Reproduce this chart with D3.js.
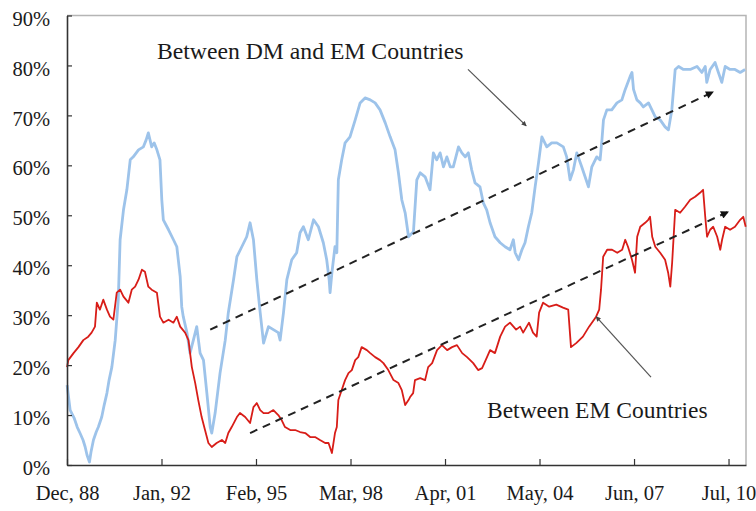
<!DOCTYPE html>
<html><head><meta charset="utf-8">
<script src="https://cdn.jsdelivr.net/npm/d3@7"></script>
<style>html,body{margin:0;padding:0;background:#fff;} svg{display:block;}</style>
</head><body>
<svg id="chart" width="756" height="511"></svg>
<script>
// ---- data ----
const dmYears=[1988.92,1989.02,1989.15,1989.25,1989.34,1989.44,1989.51,1989.57,1989.65,1989.70,
1989.78,1989.87,1989.94,1990.05,1990.13,1990.22,1990.29,1990.38,1990.49,1990.59,
1990.65,1990.76,1990.87,1990.98,1991.08,1991.25,1991.41,1991.50,1991.57,1991.68,
1991.76,1991.85,1991.95,1992.01,1992.06,1992.23,1992.39,1992.50,1992.61,1992.66,
1992.71,1992.83,1992.93,1993.04,1993.15,1993.26,1993.37,1993.48,1993.59,1993.64,
1993.75,1993.91,1994.08,1994.18,1994.35,1994.46,1994.62,1994.78,1994.89,1995.00,
1995.11,1995.22,1995.33,1995.49,1995.65,1995.81,1995.87,1995.98,1996.09,1996.25,
1996.41,1996.52,1996.63,1996.79,1996.96,1997.12,1997.28,1997.39,1997.47,1997.50,
1997.56,1997.66,1997.72,1997.77,1997.88,1997.99,1998.15,1998.32,1998.48,1998.64,
1998.81,1998.97,1999.13,1999.30,1999.46,1999.62,1999.73,1999.84,1999.95,2000.06,
2000.22,2000.33,2000.44,2000.60,2000.76,2000.87,2000.98,2001.09,2001.20,2001.31,
2001.42,2001.52,2001.69,2001.80,2001.91,2002.01,2002.12,2002.23,2002.39,2002.50,
2002.61,2002.72,2002.88,2003.05,2003.21,2003.37,2003.48,2003.54,2003.65,2003.76,
2003.86,2003.97,2004.08,2004.19,2004.30,2004.41,2004.57,2004.73,2004.90,2005.11,
2005.22,2005.33,2005.44,2005.55,2005.71,2005.82,2005.93,2006.04,2006.20,2006.31,
2006.37,2006.42,2006.53,2006.69,2006.86,2007.02,2007.13,2007.29,2007.35,2007.40,
2007.51,2007.62,2007.72,2007.89,2008.00,2008.11,2008.27,2008.43,2008.54,2008.65,
2008.76,2008.87,2009.03,2009.25,2009.47,2009.63,2009.74,2009.79,2009.90,2010.06,
2010.17,2010.28,2010.39,2010.55,2010.71,2010.88,2011.04];
const dmValues=[16.0,11.0,9.4,7.6,6.4,5.0,3.6,2.0,0.6,2.6,
5.0,6.6,7.6,9.6,12.0,14.4,17.0,19.6,25.0,33.1,
45.1,51.1,55.1,61.1,61.7,63.1,63.7,65.1,66.5,63.7,
64.5,63.1,61.1,53.1,49.1,47.1,45.1,43.7,37.7,31.7,
29.7,26.5,22.4,25.0,27.7,22.4,21.0,14.4,7.6,6.4,
10.4,18.4,25.0,30.5,37.1,41.7,43.7,45.7,48.5,45.1,
37.1,30.5,24.4,27.7,27.1,26.5,25.0,30.5,37.1,41.1,
42.5,46.5,47.7,45.1,49.1,47.7,44.5,41.1,37.1,34.5,
38.5,43.7,42.5,57.1,61.1,64.5,65.7,69.1,72.5,73.5,
73.1,72.5,71.1,68.5,65.7,63.1,58.5,53.1,50.5,45.7,
46.7,57.1,58.5,57.7,55.1,62.5,61.1,62.5,59.7,61.7,
59.7,59.7,63.7,62.5,61.7,62.5,59.1,56.5,55.7,52.5,
51.1,48.5,45.7,44.5,43.7,43.1,45.1,42.5,41.1,43.1,
44.5,47.7,50.5,55.7,60.5,65.7,63.7,64.5,64.5,63.7,
61.7,57.1,59.1,62.5,59.7,57.7,55.7,59.7,61.7,61.1,
65.1,69.1,71.1,71.1,72.5,73.1,75.2,77.8,78.6,75.2,
73.1,72.5,71.7,72.5,71.1,69.7,69.1,67.7,67.1,71.1,
79.2,79.8,79.2,79.2,79.8,78.6,79.8,76.6,79.2,80.6,
78.6,76.6,79.8,79.2,79.2,78.6,79.2];

const emYears=[1988.92,1988.96,1989.13,1989.29,1989.45,1989.61,1989.72,1989.83,1989.89,1989.99,
1990.10,1990.22,1990.32,1990.43,1990.54,1990.65,1990.76,1990.92,1991.03,1991.14,
1991.25,1991.36,1991.46,1991.57,1991.68,1991.85,1991.95,1992.06,1992.23,1992.39,
1992.50,1992.61,1992.77,1992.88,1992.99,1993.10,1993.20,1993.31,1993.42,1993.53,
1993.64,1993.80,1993.97,1994.08,1994.18,1994.29,1994.46,1994.56,1994.73,1994.89,
1995.00,1995.11,1995.22,1995.33,1995.49,1995.65,1995.81,1995.92,1996.03,1996.20,
1996.36,1996.52,1996.69,1996.85,1997.01,1997.17,1997.34,1997.45,1997.56,1997.66,
1997.72,1997.77,1997.88,1997.99,1998.10,1998.21,1998.32,1998.42,1998.53,1998.70,
1998.81,1998.97,1999.13,1999.24,1999.40,1999.57,1999.73,1999.84,1999.95,2000.06,
2000.11,2000.21,2000.27,2000.44,2000.60,2000.70,2000.83,2000.99,2001.15,2001.32,
2001.48,2001.64,2001.81,2001.97,2002.17,2002.33,2002.46,2002.62,2002.72,2002.88,
2003.05,2003.21,2003.37,2003.57,2003.70,2003.80,2003.99,2004.12,2004.24,2004.32,
2004.45,2004.65,2004.88,2005.10,2005.27,2005.36,2005.53,2005.75,2005.95,2006.18,
2006.28,2006.34,2006.41,2006.54,2006.70,2006.87,2007.03,2007.13,2007.22,2007.35,
2007.45,2007.52,2007.62,2007.78,2007.88,2007.94,2008.01,2008.11,2008.27,2008.43,
2008.53,2008.60,2008.66,2008.76,2008.92,2009.08,2009.25,2009.41,2009.57,2009.67,
2009.74,2009.80,2009.90,2010.00,2010.13,2010.23,2010.29,2010.39,2010.55,2010.71,
2010.88,2010.98,2011.06];
const emValues=[19.6,21.0,22.4,23.6,25.0,25.7,26.5,27.7,32.5,31.1,
33.1,31.1,29.7,29.1,34.5,35.1,33.7,32.5,35.1,35.7,
37.1,39.1,38.7,35.7,35.1,34.5,29.7,28.5,29.1,28.5,
29.7,27.7,26.5,25.0,19.6,16.4,13.0,9.6,7.0,4.4,
3.6,4.4,5.0,4.4,6.4,7.6,9.6,10.4,9.6,8.4,
11.6,12.4,11.0,10.4,10.4,11.0,10.0,9.0,7.6,7.0,
7.0,6.6,6.4,5.6,5.6,5.0,4.4,4.4,2.4,6.4,
7.6,13.0,15.0,17.0,18.4,19.0,21.0,21.6,23.6,23.0,
22.4,21.6,21.0,20.4,19.0,17.0,16.4,15.0,12.0,13.0,
13.6,14.4,17.0,17.4,17.0,19.6,20.4,23.0,24.0,23.0,
23.6,24.0,22.4,21.6,20.4,19.0,19.4,21.6,23.0,22.4,
25.7,27.7,28.5,27.1,27.7,26.5,28.5,26.5,25.7,30.5,
32.5,31.7,32.1,31.5,31.1,23.6,24.4,25.7,27.7,29.7,
31.1,35.1,41.7,43.1,43.1,42.5,43.1,45.1,43.7,41.1,
38.5,45.7,47.7,48.5,49.1,49.7,45.7,43.7,42.5,41.1,
38.5,35.7,40.5,51.1,50.5,51.7,53.1,53.7,54.5,55.1,
49.7,45.7,47.1,47.7,45.7,43.1,45.1,47.7,47.1,47.7,
49.1,49.7,47.7];

const yTickValues=[0,10,20,30,40,50,60,70,80,90];
const xTickYears=[1988.917,1992.0,1995.083,1998.167,2001.25,2004.333,2007.417,2010.5];
const xTickLabels=["Dec, 88","Jan, 92","Feb, 95","Mar, 98","Apr, 01","May, 04","Jun, 07","Jul, 10"];
const dmLabel="Between DM and EM Countries";
const emLabel="Between EM Countries";
const dmLabelAt=[1991.85,81.2];
const emLabelAt=[2002.62,9.4];
const dmTrend=[[1993.59,27.1],[2010.00,74.7]];
const emTrend=[[1994.89,6.4],[2010.49,50.7]];
const dmPointer=[[2002.00,79.2],[2003.90,67.9]];
const emPointer=[[2007.97,17.6],[2006.18,29.7]];

// ---- drawing ----
const FONT='"Liberation Serif","Times New Roman",serif';
const svg=d3.select("#chart");
const mLeft=67,mRight=746,mTop=15.5,mBottom=465;
const x=d3.scaleLinear().domain([1988.917,2011.07]).range([mLeft,mRight]);
const y=d3.scaleLinear().domain([0,90]).range([mBottom,mTop]);

const defs=svg.append("defs");
defs.append("marker").attr("id","bigArrow").attr("viewBox","0 0 10 10")
  .attr("refX",9).attr("refY",5).attr("markerWidth",12).attr("markerHeight",8)
  .attr("markerUnits","userSpaceOnUse").attr("orient","auto")
  .append("path").attr("d","M0,0 L10,5 L0,10 Z").attr("fill","#111");
defs.append("marker").attr("id","smallArrow").attr("viewBox","0 0 10 10")
  .attr("refX",9).attr("refY",5).attr("markerWidth",7).attr("markerHeight",5)
  .attr("markerUnits","userSpaceOnUse").attr("orient","auto")
  .append("path").attr("d","M0,0 L10,5 L0,10 Z").attr("fill","#444");

// frame (top/right light border)
svg.append("path")
  .attr("d",`M${mLeft},${mTop}H${mRight}V${mBottom}`)
  .attr("fill","none").attr("stroke","#b5b5b5").attr("stroke-width",1.5);

const line=d3.line().x(d=>x(d[0])).y(d=>y(d[1]));

svg.append("path").datum(d3.zip(dmYears,dmValues))
  .attr("d",line).attr("fill","none").attr("stroke","#9dc3ea")
  .attr("stroke-width",2.8).attr("stroke-linejoin","round");

svg.append("path").datum(d3.zip(emYears,emValues))
  .attr("d",line).attr("fill","none").attr("stroke","#d81d18")
  .attr("stroke-width",1.8).attr("stroke-linejoin","round");

// dashed trend arrows
[dmTrend,emTrend].forEach(t=>{
  svg.append("path").datum(t).attr("d",line).attr("fill","none")
    .attr("stroke","#222").attr("stroke-width",2).attr("stroke-dasharray","8,6")
    .attr("marker-end","url(#bigArrow)");
});
// label pointers
[dmPointer,emPointer].forEach(t=>{
  svg.append("path").datum(t).attr("d",line).attr("fill","none")
    .attr("stroke","#555").attr("stroke-width",1.2)
    .attr("marker-end","url(#smallArrow)");
});

// axes
const yAxis=d3.axisLeft(y).tickValues(yTickValues).tickFormat(d=>d+"%")
  .tickSizeInner(-5).tickSizeOuter(0).tickPadding(17);
svg.append("g").attr("transform",`translate(${mLeft},0)`).call(yAxis)
  .call(g=>{
    g.attr("font-family",FONT).attr("font-size",20.5);
    g.select(".domain").attr("stroke","#333").attr("stroke-width",1.6);
    g.selectAll(".tick line").attr("stroke","#333").attr("stroke-width",1.2);
    g.selectAll(".tick text").attr("dy","0.47em").attr("fill","#1a1a1a");
  });

const xAxis=d3.axisBottom(x).tickValues(xTickYears)
  .tickFormat((d,i)=>xTickLabels[i]).tickSizeInner(-6).tickSizeOuter(0).tickPadding(20);
svg.append("g").attr("transform",`translate(0,${mBottom})`).call(xAxis)
  .call(g=>{
    g.attr("font-family",FONT).attr("font-size",20.5);
    g.select(".domain").attr("stroke","#333").attr("stroke-width",1.6);
    g.selectAll(".tick line").attr("stroke","#333").attr("stroke-width",1.2);
    g.selectAll(".tick text").attr("fill","#1a1a1a");
  });

// annotation labels
svg.append("text").attr("x",x(dmLabelAt[0])).attr("y",y(dmLabelAt[1]))
  .attr("font-family",FONT).attr("font-size",23.7).attr("fill","#1a1a1a").text(dmLabel);
svg.append("text").attr("x",x(emLabelAt[0])).attr("y",y(emLabelAt[1]))
  .attr("font-family",FONT).attr("font-size",23.5).attr("fill","#1a1a1a").text(emLabel);
</script>
</body></html>
